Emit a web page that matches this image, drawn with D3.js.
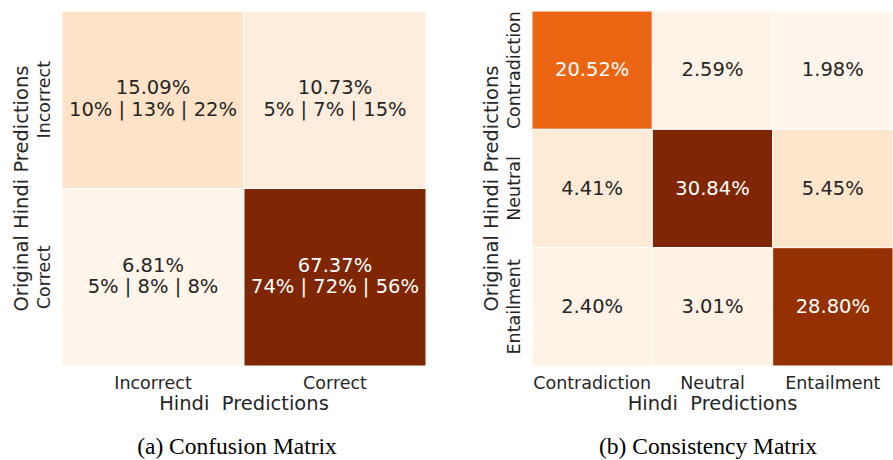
<!DOCTYPE html>
<html>
<head>
<meta charset="utf-8">
<script src="https://cdn.jsdelivr.net/npm/d3@7"></script>
<style>
  body { margin: 0; background: #fff; }
  text { font-family: "DejaVu Sans", sans-serif; }
</style>
</head>
<body>
<div id="chart"></div>
<script>
// confusion matrix data
var confLabels = ['Incorrect', 'Correct'];
var confValues = [[15.09, 10.73], [6.81, 67.37]];
var confBreakdown = [['10% | 13% | 22%', '5% | 7% | 15%'], ['5% | 8% | 8%', '74% | 72% | 56%']];

// consistency matrix data
var consLabels = ['Contradiction', 'Neutral', 'Entailment'];
var consValues = [[20.52, 2.59, 1.98], [4.41, 30.84, 5.45], [2.40, 3.01, 28.80]];

(function() {

  init();

  function init() {
    var width = 893;
    var height = 460;

    var svg = d3.select('#chart')
      .append('svg')
      .attr('width', width)
      .attr('height', height);

    drawMatrix(svg, {
      left: 62, top: 11, w: 364, h: 355,
      labels: confLabels, values: confValues, extra: confBreakdown,
      caption: '(a) Confusion Matrix', captionX: 237
    });

    drawMatrix(svg, {
      left: 532, top: 11, w: 361, h: 355,
      labels: consLabels, values: consValues, extra: null,
      caption: '(b) Consistency Matrix', captionX: 708
    });
  }

  // seaborn picks white text on dark cells
  function luminance(c) {
    var rgb = d3.rgb(c);
    var lin = [rgb.r, rgb.g, rgb.b].map(function(v) {
      v = v / 255;
      return v <= 0.03928 ? v / 12.92 : Math.pow((v + 0.055) / 1.055, 2.4);
    });
    return 0.2126 * lin[0] + 0.7152 * lin[1] + 0.0722 * lin[2];
  }

  function drawMatrix(svg, o) {
    var g = svg.append('g').attr('transform', 'translate(' + o.left + ',' + o.top + ')');

    var x = d3.scaleBand().domain(o.labels).range([0, o.w]);
    var y = d3.scaleBand().domain(o.labels).range([0, o.h]);

    var cells = [];
    o.values.forEach(function(row, i) {
      row.forEach(function(v, j) {
        cells.push({ row: o.labels[i], col: o.labels[j], v: v, extra: o.extra ? o.extra[i][j] : null });
      });
    });

    var color = d3.scaleSequential(d3.interpolateOranges)
      .domain(d3.extent(cells, function(d) { return d.v; }));

    g.selectAll('rect')
      .data(cells)
      .enter()
      .append('rect')
      .attr('x', function(d) { return x(d.col); })
      .attr('y', function(d) { return y(d.row); })
      .attr('width', x.bandwidth())
      .attr('height', y.bandwidth())
      .attr('fill', function(d) { return color(d.v); })
      .attr('stroke', '#fff')
      .attr('stroke-width', 1);

    var labels = g.selectAll('text.val')
      .data(cells)
      .enter()
      .append('text')
      .attr('class', 'val')
      .attr('x', function(d) { return x(d.col) + x.bandwidth() / 2; })
      .attr('y', function(d) { return y(d.row) + y.bandwidth() / 2; })
      .attr('text-anchor', 'middle')
      .attr('font-size', 19.5)
      .attr('fill', function(d) { return luminance(color(d.v)) < 0.408 ? '#fff' : '#262626'; });

    labels.each(function(d) {
      var t = d3.select(this);
      var txt = d.v.toFixed(2) + '%';
      if (d.extra) {
        t.append('tspan').attr('x', t.attr('x')).attr('dy', -5.5).text(txt);
        t.append('tspan').attr('x', t.attr('x')).attr('dy', 21.5).text(d.extra);
      } else {
        t.attr('dy', 6).text(txt);
      }
    });

    // x axis
    var xAxis = g.append('g')
      .attr('transform', 'translate(0,' + o.h + ')')
      .call(d3.axisBottom(x).tickSize(0).tickPadding(10.5));
    xAxis.select('.domain').remove();
    xAxis.selectAll('text')
      .attr('font-family', 'DejaVu Sans')
      .attr('font-size', 17.5)
      .attr('fill', '#262626');

    // y axis, labels rotated
    var yAxis = g.append('g')
      .call(d3.axisLeft(y).tickSize(0));
    yAxis.select('.domain').remove();
    yAxis.selectAll('text')
      .attr('transform', 'rotate(-90)')
      .attr('x', 0)
      .attr('y', -12)
      .attr('dy', 0)
      .attr('text-anchor', 'middle')
      .attr('font-family', 'DejaVu Sans')
      .attr('font-size', 17.5)
      .attr('fill', '#262626');

    g.append('text')
      .attr('x', o.w / 2)
      .attr('y', o.h + 44)
      .attr('text-anchor', 'middle')
      .attr('font-size', 19.5)
      .attr('fill', '#262626')
      .attr('xml:space', 'preserve')
      .style('white-space', 'pre')
      .text('Hindi  Predictions');

    g.append('text')
      .attr('transform', 'translate(-34,' + (o.h / 2) + ') rotate(-90)')
      .attr('text-anchor', 'middle')
      .attr('font-size', 19.5)
      .attr('fill', '#262626')
      .text('Original Hindi Predictions');

    svg.append('text')
      .attr('x', o.captionX)
      .attr('y', 454)
      .attr('text-anchor', 'middle')
      .style('font-family', '"Liberation Serif", "Times New Roman", serif')
      .attr('font-size', 23.5)
      .attr('fill', '#000')
      .text(o.caption);
  }

})();
</script>
</body>
</html>
